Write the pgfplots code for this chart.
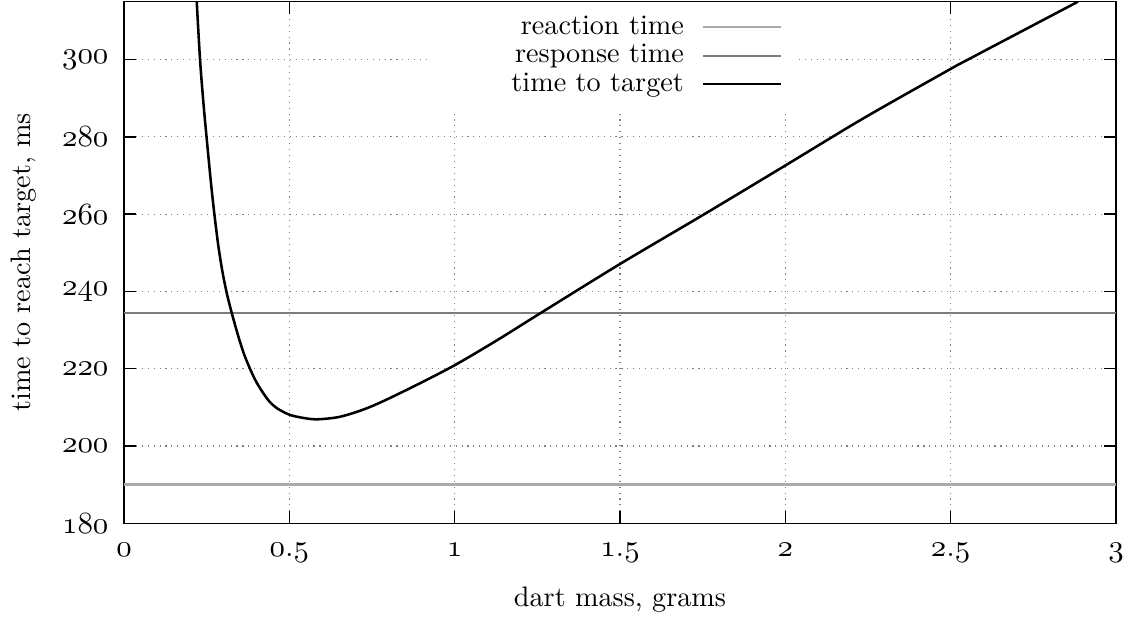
\documentclass[border=0pt]{standalone}
\usepackage{pgfplots}
\pgfplotsset{compat=1.18}
\newcommand{\os}[1]{{\usefont{OML}{cmm}{m}{it}#1}}
\definecolor{reactgray}{RGB}{170,170,170}
\definecolor{respgray}{RGB}{125,125,125}
\begin{document}
\begin{tikzpicture}
\begin{axis}[name=ax, scale only axis, width=351.8pt, height=184.96pt,
  xmin=0, xmax=3, ymin=180, ymax=315,
  xtick={0,0.5,1,1.5,2,2.5,3},
  xticklabels={\os{0},\os{0}.\os{5},\os{1},\os{1}.\os{5},\os{2},\os{2}.\os{5},\os{3}},
  ytick={180,200,220,240,260,280,300},
  yticklabels={\os{180},\os{200},\os{220},\os{240},\os{260},\os{280},\os{300}},
  tick label style={font=\fontsize{11.2}{13}\selectfont},
  tick align=inside, tick pos=both, major tick length=4.4pt,
  grid=major, grid style={gray, line width=0.4pt, dash pattern=on 0.4pt off 1.7pt},
  axis line style={line width=0.5pt}, tick style={black, line width=0.5pt},
  xticklabel style={yshift=-3.6pt}, yticklabel style={xshift=-2pt},
  xlabel={dart mass, grams}, ylabel={time to reach target, ms},
  xlabel style={at={(axis description cs:0.5,-0.1457)}, anchor=center},
  ylabel style={at={(axis description cs:-0.1008,0.5)}, anchor=center},
  legend cell align=right, legend plot pos=right,
  legend image code/.code={\draw[#1] (0pt,0pt) -- (27.7pt,0pt);},
  legend style={at={(axis description cs:0.6815,1)}, anchor=north east,
    draw=none, fill=white, inner xsep=6pt, inner ysep=3.8pt, column sep=6.4pt,
    nodes={inner sep=0pt, text height=7.5pt, text depth=2.6pt, text width=83.6pt, align=right}},
]
\addplot[reactgray, line width=0.8pt] coordinates {(0,190) (3,190)};
\addlegendentry{reaction time}
\addplot[respgray, line width=0.8pt] coordinates {(0,234.5) (3,234.5)};
\addlegendentry{response time}
\addplot[black, line width=0.9pt, smooth] coordinates {
(0.220,315) (0.230,300) (0.240,289) (0.248,281.5) (0.262,269) (0.272,261)
(0.285,252) (0.298,245) (0.311,239.5) (0.326,234.4) (0.346,228.3) (0.363,223.8)
(0.381,220.0) (0.400,216.6) (0.421,213.7) (0.440,211.5) (0.462,209.8)
(0.500,208.1) (0.540,207.3) (0.583,206.9) (0.650,207.5) (0.720,209.3)
(0.784,211.6) (0.885,215.8) (1.000,220.9) (1.127,227.3) (1.258,234.3)
(1.500,247.1) (1.757,260.1) (2.000,272.6) (2.236,284.8) (2.500,297.6)
(2.552,300) (2.885,315)};
\addlegendentry{time to target}
\end{axis}
\pgfresetboundingbox
\path ([shift={(-43.97pt,-33.2pt)}]ax.south west) rectangle ([shift={(4.26pt,0.6pt)}]ax.north east);
\end{tikzpicture}
\end{document}
